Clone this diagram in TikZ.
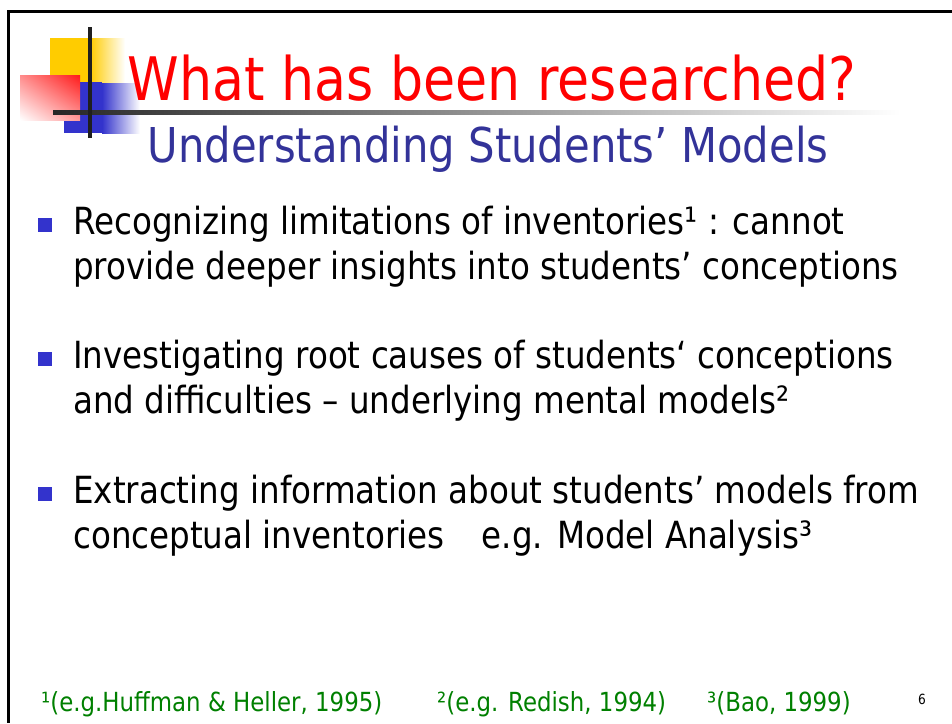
\documentclass[tikz,border=0pt]{standalone}
\usepackage{fontspec}
\setmainfont{DejaVu Sans}[FakeStretch=0.87]
\usetikzlibrary{positioning,shadings}

\definecolor{titlered}{RGB}{255,0,0}
\definecolor{subblue}{RGB}{51,51,153}
\definecolor{bulletblue}{RGB}{51,51,204}
\definecolor{decoyellow}{RGB}{255,204,0}
\definecolor{notegreen}{RGB}{0,128,0}

\begin{document}
\begin{tikzpicture}[x=1pt, y=-1pt
    , slidetitle/.style={inner sep=0pt, anchor=base, text=titlered, font=\fontsize{60}{70}\selectfont}
    , slidesub/.style={inner sep=0pt, anchor=base, text=subblue, font=\fontsize{48}{56}\selectfont}
    , bodytext/.style={inner sep=0pt, anchor=base west, font=\fontsize{37.4}{45}\selectfont}
    , notetext/.style={inner sep=0pt, anchor=base west, text=notegreen, font=\fontsize{26.3}{32}\selectfont}
    , bulletsq/.style={fill=bulletblue, minimum size=14pt, inner sep=0pt}
    ]
    \useasboundingbox[fill=white] (0,0) rectangle (952,723);

    % frame of the slide
    \draw[line width=3pt] (952,11) -- (8,11) -- (8,723);

    % corner ornament
    \fill[decoyellow] (50,38) rectangle (90,83);
    \shade[left color=decoyellow, right color=white] (90,38) rectangle (125,83);
    \fill[bulletblue] (64,82) rectangle (102,133);
    \shade[left color=bulletblue, right color=white] (102,83) rectangle (140,133);
    \shade[upper right=red!90, lower left=white, upper left=red!45, lower right=red!40] (20,75) rectangle (80,120);
    \shade[left color=black!85, right color=white] (53,110) rectangle (900,114);
    \fill[black!88] (88,27) rectangle (91.5,138);

    \node[slidetitle] (title) at (492,100) {What has been researched?};
    \node[slidesub] (subtitle) at (488,162) {Understanding Students’ Models};

    % bullets
    \node[bodytext] (b1a) at (73,234) {Recognizing limitations of inventories¹ : cannot};
    \node[below=45pt of b1a.base west, bodytext] (b1b) {provide deeper insights into students’ conceptions};
    \node[bodytext] (b2a) at (73,368) {Investigating root causes of students‘ conceptions};
    \node[below=45pt of b2a.base west, bodytext] (b2b) {and difficulties – underlying mental models²};
    \node[bodytext] (b3a) at (73,503) {Extracting information about students’ models from};
    \node[below=45pt of b3a.base west, bodytext] (b3b) {conceptual inventories\quad e.g. Model Analysis³};

    \node[bulletsq] (sq1) at (45,225) {};
    \node[bulletsq] (sq2) at (45,359) {};
    \node[bulletsq] (sq3) at (45,494) {};

    % references
    \node[notetext] (ref1) at (41,711) {¹(e.g.Huffman \& Heller, 1995)};
    \node[notetext] (ref2) at (437,711) {²(e.g. Redish, 1994)};
    \node[notetext] (ref3) at (707,711) {³(Bao, 1999)};
    \node[inner sep=0pt, anchor=base, font=\fontsize{14}{16}\selectfont] (pagenum) at (922,704) {6};
\end{tikzpicture}
\end{document}
